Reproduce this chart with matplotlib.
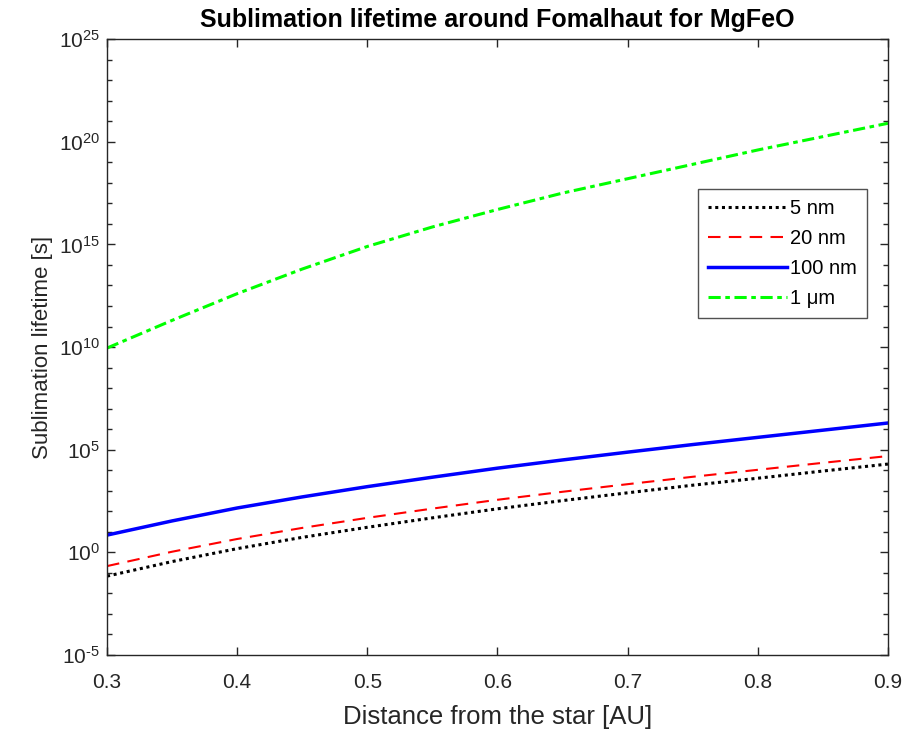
import numpy as np
import matplotlib
matplotlib.use("Agg")
import matplotlib.pyplot as plt
from matplotlib.ticker import FixedLocator, FuncFormatter

plt.rcParams["font.family"] = ["Liberation Sans", "DejaVu Sans"]
plt.rcParams["mathtext.fontset"] = "custom"
plt.rcParams["mathtext.rm"] = "Liberation Sans"
plt.rcParams["mathtext.default"] = "regular"
plt.rcParams["axes.unicode_minus"] = False

# Distance from the star [AU]
distance = [0.30, 0.35, 0.40, 0.45, 0.50, 0.55, 0.60, 0.65, 0.70, 0.75, 0.80, 0.85, 0.90]

# log10 of the sublimation lifetime [s] for each grain size
log_tau_5nm = [-1.16, -0.45, 0.18, 0.73, 1.22, 1.68, 2.12, 2.52, 2.90, 3.27, 3.61, 3.96, 4.30]
log_tau_20nm = [-0.67, 0.03, 0.65, 1.19, 1.68, 2.13, 2.56, 2.95, 3.32, 3.68, 4.02, 4.36, 4.69]
log_tau_100nm = [0.84, 1.53, 2.16, 2.70, 3.20, 3.66, 4.10, 4.50, 4.88, 5.25, 5.60, 5.95, 6.30]
log_tau_1um = [9.95, 11.30, 12.60, 13.80, 14.90, 15.85, 16.70, 17.50, 18.20, 18.90, 19.60, 20.25, 20.90]

labels = ["5 nm", "20 nm", "100 nm", "1 \u03bcm"]
x_ticks = [0.3, 0.4, 0.5, 0.6, 0.7, 0.8, 0.9]
y_major_exp = [-5, 0, 5, 10, 15, 20, 25]


def pow10_label(v, pos):
    e = int(round(np.log10(v)))
    if e < 0:
        return r"$10^{\text{-%d}}$" % (-e)
    return r"$10^{%d}$" % e


fig = plt.figure(figsize=(9.07, 7.38), dpi=100)
ax = fig.add_axes([0.118, 0.1125, 0.861, 0.8345])

x = np.array(distance)
ax.plot(x, 10.0 ** np.array(log_tau_5nm), color="black", linestyle=(0, (1, 1.2)), lw=2.2, label=labels[0])
ax.plot(x, 10.0 ** np.array(log_tau_20nm), color="red", linestyle=(0, (6, 4)), lw=1.5, label=labels[1])
ax.plot(x, 10.0 ** np.array(log_tau_100nm), color="blue", linestyle="-", lw=2.5, label=labels[2])
ax.plot(x, 10.0 ** np.array(log_tau_1um), color="#00ff00", linestyle=(0, (4, 1.5, 1.5, 1.5)), lw=2.2, label=labels[3])

ax.set_yscale("log")
ax.set_xlim(0.3, 0.9)
ax.set_ylim(1e-5, 1e25)

ax.xaxis.set_major_locator(FixedLocator(x_ticks))
ax.xaxis.set_major_formatter(FuncFormatter(lambda v, p: f"{v:g}"))
ax.yaxis.set_major_locator(FixedLocator([10.0 ** e for e in y_major_exp]))
ax.yaxis.set_major_formatter(FuncFormatter(pow10_label))
ax.yaxis.set_minor_locator(FixedLocator([10.0 ** e for e in range(-5, 26)]))
ax.yaxis.set_minor_formatter(FuncFormatter(lambda v, p: ""))

edge = "#262626"
for s in ax.spines.values():
    s.set_color(edge)
    s.set_linewidth(1.0)
ax.tick_params(which="both", direction="in", top=True, right=True, colors=edge, labelcolor=edge, labelsize=15)
ax.tick_params(which="major", length=6, width=1.0)
ax.tick_params(which="minor", length=3.5, width=1.0)
ax.tick_params(axis="x", pad=13)
ax.tick_params(axis="y", pad=5)

ax.set_xlabel("Distance from the star [AU]", fontsize=18.5, color=edge, labelpad=9)
ax.set_ylabel("Sublimation lifetime [s]", fontsize=16, color=edge, labelpad=4)
ax.set_title("Sublimation lifetime around Fomalhaut for MgFeO", fontsize=18, fontweight="bold", pad=9)

leg = ax.legend(loc="upper left", bbox_to_anchor=(0.757, 0.757), fontsize=14.5, frameon=True,
                fancybox=False, edgecolor=edge, handlelength=3.9, handletextpad=0.15,
                labelspacing=0.55, borderpad=0.5, borderaxespad=0)
leg.get_frame().set_linewidth(1.0)

fig.savefig("out.png", dpi=100)
